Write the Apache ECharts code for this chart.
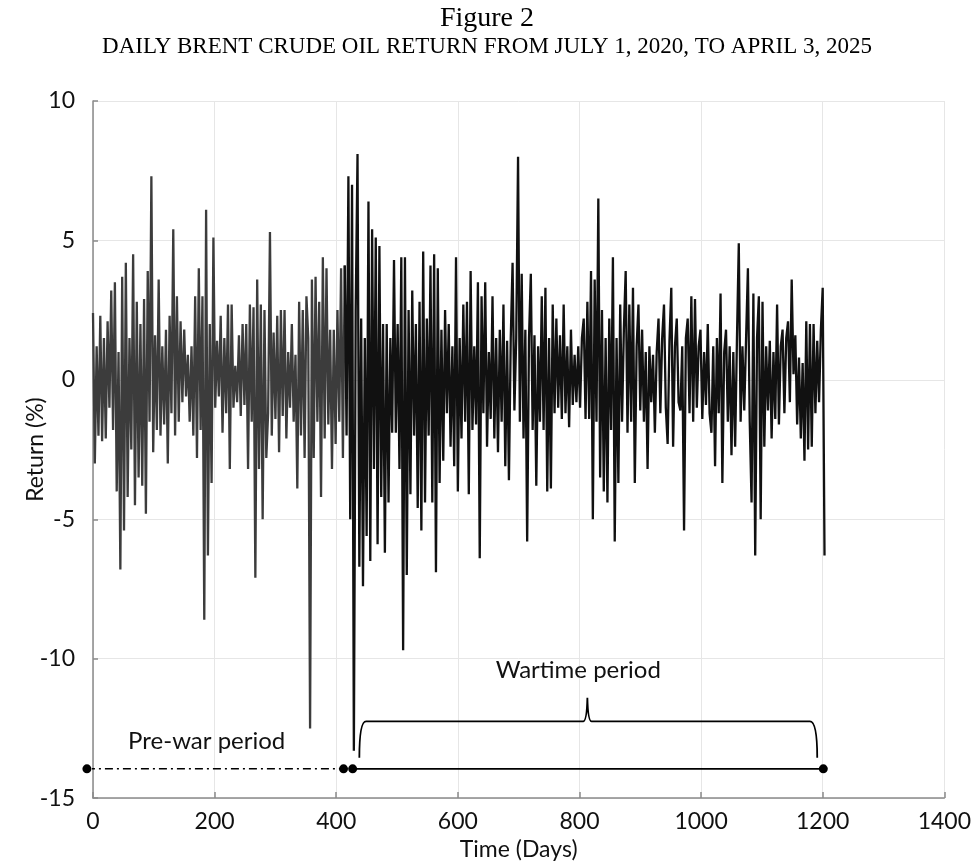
<!DOCTYPE html>
<html>
<head>
<meta charset="utf-8">
<title>Daily Brent crude oil return</title>
<script src="https://cdn.jsdelivr.net/npm/echarts@6.0.0/dist/echarts.min.js"></script>
<style>
  html, body { margin: 0; padding: 0; background: #fff; }
  #chart { width: 974px; height: 866px; }
</style>
</head>
<body>
<div id="chart"></div>
<script>
// one value every 3 trading days
var STEP = 3

// pre-war returns (%), days 0..414
var preWarReturns = [
  2.4, -3.0, 1.2, -2.0, 2.3, -2.2, 1.5, -2.1, 2.1, -1.0,
  3.2, -1.8, 3.5, -4.0, 1.0, -6.8, 3.7, -5.4, 4.2, -4.2,
  1.5, -2.5, 4.5, -4.5, 2.8, -3.5, 2.0, -3.8, 2.9, -4.8,
  3.9, -1.5, 7.3, -2.6, 1.6, -1.8, 3.6, -2.0, 1.2, -1.6,
  1.8, -3.0, 2.3, -1.2, 5.4, -2.0, 3.0, -1.5, 2.1, -0.8,
  1.8, -0.6, 0.9, -1.5, 1.2, -2.0, 3.0, -2.8, 4.0, -1.8,
  3.0, -8.6, 6.1, -6.3, 2.0, -3.7, 5.1, -1.0, 1.4, -0.6,
  2.3, -1.9, 1.5, -1.2, 2.7, -3.2, 2.7, -1.0, 0.5, -0.8,
  1.6, -1.3, 2.0, -0.9, 2.0, -3.2, 2.7, -1.5, 2.6, -7.1,
  3.6, -3.2, 2.7, -5.0, 2.5, -2.8, -1.2, 5.3, -2.0, 1.7,
  -1.4, 2.3, -2.6, 2.5, -1.3, 2.5, -2.1, 1.0, -1.0, 2.0,
  -1.5, 0.9, -3.9, 2.8, -2.0, 2.5, -2.8, 3.0, 1.5, -12.5,
  3.6, -2.8, 3.7, -1.5, 2.8, -4.2, 4.4, -2.1, 4.0, -1.6,
  1.8, -3.2, 1.8, -2.3, 2.5, -1.5, 4.0, -2.8, 4.1
]

// wartime returns (%), days 417..804
var warReturnsA = [
  -2.0, 7.3, -5.0, 7.0, -13.3, 2.5, 8.1, -6.7, 2.2, -7.4,
  1.5, -5.6, 6.4, -6.5, 5.4, -3.2, 5.1, -5.9, 4.8, -4.2,
  2.0, -6.2, 2.0, -4.4, 1.5, -1.9, 4.3, -1.9, 2.0, -3.2,
  4.4, -9.7, 4.4, -7.0, 2.5, -4.1, 3.2, -2.0, 2.0, -4.6,
  2.8, -5.4, 4.6, -4.4, 2.2, -2.0, 4.1, -4.4, 4.5, -6.9,
  4.0, -3.7, 1.8, -2.9, 2.5, -1.2, 2.0, -2.4, 1.2, -3.1,
  4.4, -4.0, 1.5, -2.1, 2.7, -1.5, 2.8, -4.1, 3.9, -1.8,
  1.2, -1.6, 3.5, -6.4, 3.0, -1.2, 3.5, -2.4, 1.0, -1.4,
  3.0, -2.1, 1.5, -2.6, 1.8, -1.5, 2.7, -3.1, 1.4, -3.6,
  1.5, 4.2, -1.1, 1.5, 8.0, -1.5, 3.8, -2.1, 1.8, -5.8,
  1.5, 3.8, -1.8, 1.6, -3.8, 1.2, -1.5, 3.0, -1.8, 3.3,
  -4.0, 1.5, -3.9, 2.7, -1.2, 2.2, -1.0, 1.6, -1.4, 2.7,
  -1.2, 1.2, -1.7, 1.8, -0.9, 0.9, -0.8, 1.2, -1.0, 1.5
]

// wartime returns (%), days 807..1203
var warReturnsB = [
  2.2, -1.4, 2.8, -1.4, 3.9, -5.0, 3.6, -1.5, 6.5, -3.5,
  2.5, -4.0, 1.5, -4.4, 2.2, -1.8, 4.4, -5.8, 1.5, -3.7,
  2.7, -1.5, 1.8, 3.9, -1.9, 2.7, -1.5, 3.3, -3.7, 1.2,
  2.7, -1.1, 1.8, -1.5, 1.0, -3.2, 1.2, -0.8, 0.9, -1.9,
  1.0, 2.2, -1.2, 1.5, 2.7, -1.0, -2.3, 1.4, 3.3, -2.4,
  1.2, 2.2, -0.8, -1.1, 1.2, -5.4, 1.5, 2.2, -1.2, 3.0,
  -1.5, 2.9, -1.0, 1.2, 1.8, -1.4, 1.0, -0.9, 2.0, -1.2,
  -1.9, 1.2, -3.1, 1.5, -1.2, 3.1, -3.7, 1.0, 1.8, -1.5,
  1.2, -2.7, 1.0, -2.4, 1.5, 4.9, -1.5, 1.2, -1.1, 1.5,
  4.0, -1.5, -4.4, 3.1, -6.3, 1.5, 3.0, -5.0, 2.8, -2.4,
  1.2, -1.1, 1.4, -2.1, 1.0, -1.4, 2.7, -1.6, 1.2, 1.8,
  -1.2, 1.5, 2.1, -0.8, 3.6, 0.2, 1.6, -1.6, 0.8, -2.1,
  0.6, -2.9, 2.1, -2.5, 2.0, -2.4, 2.0, -1.2, 1.4, -0.8,
  1.8, 3.3, -6.3
]

var preWarStart = 0
var warStartA = 417
var warStartB = 807

// period markers at the bottom of the plot
var periodLevel = -13.95
var preWarSpan = [-10, 412]
var warSpan = [427, 1201]

// axis ranges: min, max, interval
var xRange = [0, 1400, 200]
var yRange = [-15, 10, 5]

function toPairs(values, start) {
  return values.map(function (v, i) { return [start + i * STEP, v] })
}

var preWarData = toPairs(preWarReturns, preWarStart)
// start the wartime line at the last pre-war point so they join up
var warData = [preWarData[preWarData.length - 1]]
  .concat(toPairs(warReturnsA, warStartA))
  .concat(toPairs(warReturnsB, warStartB))

var labelFont = 'Lato'

// brace over the wartime period, and the two period labels
function renderNotes(params, api) {
  var p = function (d, v) { return api.coord([d, v]) }
  var top = -12.25
  var tip = -13.55
  var a = p(438, tip), a1 = p(438, top), a2 = p(449, top)
  var m0 = p(806, top), mc0 = p(812, top), pk = p(813, -11.4), mc1 = p(814, top), m1 = p(820, top)
  var b0 = p(1179, top), b1 = p(1191, top), b = p(1191, tip)
  var d = 'M' + a[0] + ' ' + a[1] +
    ' Q' + a1[0] + ' ' + a1[1] + ' ' + a2[0] + ' ' + a2[1] +
    ' L' + m0[0] + ' ' + m0[1] +
    ' Q' + mc0[0] + ' ' + mc0[1] + ' ' + pk[0] + ' ' + pk[1] +
    ' Q' + mc1[0] + ' ' + mc1[1] + ' ' + m1[0] + ' ' + m1[1] +
    ' L' + b0[0] + ' ' + b0[1] +
    ' Q' + b1[0] + ' ' + b1[1] + ' ' + b[0] + ' ' + b[1]
  var war = p(798, -10.42)
  var pre = p(187, -12.96)
  return {
    type: 'group',
    children: [
      { type: 'path', shape: { pathData: d }, style: { fill: 'none', stroke: '#000', lineWidth: 1.8 } },
      { type: 'text', x: war[0], y: war[1], style: { text: 'Wartime period', font: '24px ' + labelFont, fill: '#111', align: 'center', verticalAlign: 'middle' } },
      { type: 'text', x: pre[0], y: pre[1], style: { text: 'Pre-war period', font: '24px ' + labelFont, fill: '#111', align: 'center', verticalAlign: 'middle' } }
    ]
  }
}

var option = {
  animation: false,
  backgroundColor: '#fff',
  title: {
    text: 'Figure 2',
    subtext: 'DAILY BRENT CRUDE OIL RETURN FROM JULY 1, 2020, TO APRIL 3, 2025',
    left: 'center',
    top: 0,
    itemGap: 2,
    textStyle: { fontFamily: 'Liberation Serif', fontSize: 28, fontWeight: 'normal', color: '#000' },
    subtextStyle: { fontFamily: 'Liberation Serif', fontSize: 23, color: '#000' }
  },
  grid: { left: 93, right: 22, top: 101, bottom: 66 },
  xAxis: {
    type: 'value',
    min: xRange[0],
    max: xRange[1],
    interval: xRange[2],
    name: 'Time (Days)',
    nameLocation: 'middle',
    nameGap: 38,
    nameTextStyle: { fontFamily: labelFont, fontSize: 23, color: '#111' },
    axisLine: { onZero: false, lineStyle: { color: '#8a8a8a', width: 1.5 } },
    axisTick: { inside: true, length: 6, lineStyle: { color: '#8a8a8a', width: 1.5 } },
    axisLabel: { fontFamily: labelFont, fontSize: 23, color: '#111', margin: 12, formatter: function (v) { return String(v) } },
    splitLine: { show: true, lineStyle: { color: '#e6e6e6', width: 1 } }
  },
  yAxis: {
    type: 'value',
    min: yRange[0],
    max: yRange[1],
    interval: yRange[2],
    name: 'Return (%)',
    nameLocation: 'middle',
    nameGap: 46,
    nameMoveOverlap: false,
    nameTextStyle: { fontFamily: labelFont, fontSize: 23, color: '#111' },
    axisLine: { show: true, onZero: false, lineStyle: { color: '#8a8a8a', width: 1.5 } },
    axisTick: { show: true, inside: true, length: 5, lineStyle: { color: '#8a8a8a', width: 1.5 } },
    axisLabel: { fontFamily: labelFont, fontSize: 23, color: '#111', margin: 18 },
    splitLine: { show: true, lineStyle: { color: '#e6e6e6', width: 1 } }
  },
  series: [
    {
      name: 'Pre-war',
      type: 'line',
      data: preWarData,
      showSymbol: false,
      sampling: 'none',
      lineStyle: { color: '#3c3c3c', width: 2.3 },
      z: 3
    },
    {
      name: 'Wartime',
      type: 'line',
      data: warData,
      showSymbol: false,
      sampling: 'none',
      lineStyle: { color: '#111', width: 2.3 },
      z: 3
    },
    {
      name: 'Pre-war span',
      type: 'line',
      data: preWarSpan.map(function (d) { return [d, periodLevel] }),
      clip: false,
      symbol: 'circle',
      symbolSize: 9,
      itemStyle: { color: '#000' },
      lineStyle: { color: '#000', width: 1.5, type: [8, 4, 2, 4] },
      z: 5
    },
    {
      name: 'Wartime span',
      type: 'line',
      data: warSpan.map(function (d) { return [d, periodLevel] }),
      clip: false,
      symbol: 'circle',
      symbolSize: 9,
      itemStyle: { color: '#000' },
      lineStyle: { color: '#000', width: 1.8 },
      z: 5
    },
    {
      name: 'Notes',
      type: 'custom',
      data: [[0, 0]],
      clip: false,
      silent: true,
      renderItem: renderNotes,
      z: 6
    }
  ]
}

var chart = echarts.init(document.getElementById('chart'))
chart.setOption(option)
</script>
</body>
</html>
